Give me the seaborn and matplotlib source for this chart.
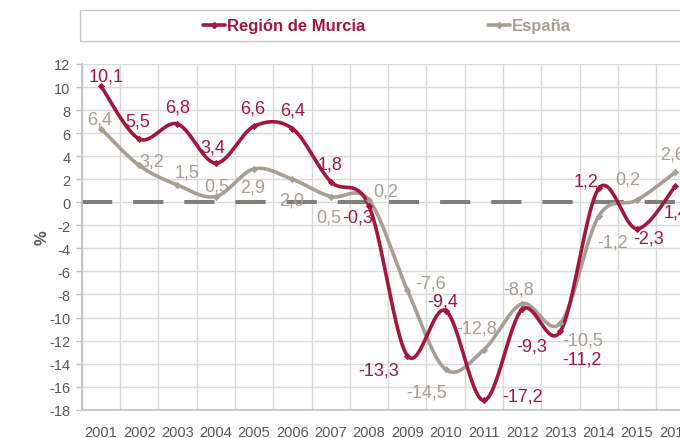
import numpy as np
import pandas as pd
import matplotlib
matplotlib.use("Agg")
import matplotlib.pyplot as plt
from matplotlib.lines import Line2D
from matplotlib.patches import Rectangle
import seaborn as sns

# ---------------- data ----------------
years = [2001, 2002, 2003, 2004, 2005, 2006, 2007, 2008,
         2009, 2010, 2011, 2012, 2013, 2014, 2015, 2016]
murcia = [10.1, 5.5, 6.8, 3.4, 6.6, 6.4, 1.8, -0.3,
          -13.3, -9.4, -17.2, -9.3, -11.2, 1.2, -2.3, 1.4]
espana = [6.4, 3.2, 1.5, 0.5, 2.9, 2.0, 0.5, 0.2,
          -7.6, -14.5, -12.8, -8.8, -10.5, -1.2, 0.2, 2.6]
series_names = ["Región de Murcia", "España"]
yticks = list(range(-18, 13, 2))

# label offsets in pixels (dx, dy; dy positive = up)
murcia_off = [(5, 10), (-1, 18), (0, 17), (-3, 16), (-1, 18), (0, 19), (-1, 18), (-11, -11),
              (-29, -14), (-3, 10), (39, 4), (10, -37), (21, -28), (-13, 7), (12, -9), (1, -26)]
espana_off = [(-1, 10), (13, 4), (10, 13), (1, 11), (-1, -18), (-1, -21), (-2, -20), (17, 9),
              (23, 7), (-19, -23), (-7, 22), (-4, 15), (22, -17), (14, -26), (-9, 21), (-3, 18)]

C_MUR = "#A3173F"
C_ESP = "#A89F94"

sns.set_theme(style="white")
plt.rcParams["font.family"] = ["Liberation Sans", "DejaVu Sans"]
plt.rcParams["axes.unicode_minus"] = False

fig = plt.figure(figsize=(6.8, 4.39), dpi=100)
W, H = 680, 439
ax = fig.add_axes([81.7 / W, 1 - 410.7 / H, (694.5 - 81.7) / W, (410.7 - 65) / H])


def smooth(xs, ys, n=30):
    """Catmull-Rom style smoothing (like spreadsheet 'smoothed line')."""
    P = np.column_stack([xs, ys]).astype(float)
    out = []
    for i in range(len(P) - 1):
        p0 = P[i - 1] if i > 0 else P[i]
        p1 = P[i]
        p2 = P[i + 1]
        p3 = P[i + 2] if i + 2 < len(P) else P[i + 1]
        c1 = p1 + (p2 - p0) / 6.0
        c2 = p2 - (p3 - p1) / 6.0
        t = np.linspace(0, 1, n, endpoint=False)[:, None]
        seg = ((1 - t) ** 3) * p1 + 3 * ((1 - t) ** 2) * t * c1 + 3 * (1 - t) * t ** 2 * c2 + t ** 3 * p2
        out.append(seg)
    out.append(P[-1:])
    return np.vstack(out)


xpos = np.arange(len(years))
df = pd.DataFrame({"x": np.tile(xpos, 2),
                   "value": murcia + espana,
                   "serie": [series_names[0]] * len(years) + [series_names[1]] * len(years)})

# zero dashed line
ax.axhline(0, color="#7F7F7F", lw=2.9, dashes=(7.5, 5.2), zorder=2)

for name, vals, col in [(series_names[1], espana, C_ESP), (series_names[0], murcia, C_MUR)]:
    sm = smooth(xpos, vals)
    sdf = pd.DataFrame({"x": sm[:, 0], "y": sm[:, 1]})
    sns.lineplot(data=sdf, x="x", y="y", ax=ax, color=col, lw=2.6, sort=False,
                 estimator=None, zorder=4 if col == C_MUR else 3)
    sub = df[df["serie"] == name]
    sns.scatterplot(data=sub, x="x", y="value", ax=ax, color=col, marker="D", s=14,
                    edgecolor=col, linewidth=0, zorder=5, legend=False)

# data labels
for vals, offs, col in [(murcia, murcia_off, C_MUR), (espana, espana_off, C_ESP)]:
    for i, v in enumerate(vals):
        ax.annotate(f"{v:.1f}".replace(".", ","), (xpos[i], v),
                    xytext=offs[i], textcoords="offset pixels",
                    ha="center", va="center", fontsize=13, color=col, zorder=6)

ax.set_xlim(-0.5, len(years) - 0.5)
ax.set_ylim(-18, 12)
ax.set_xticks(xpos)
ax.set_xticklabels([str(y) for y in years])
ax.set_xticks(np.arange(-0.5, len(years), 1), minor=True)
ax.set_yticks(yticks)
ax.set_yticklabels([str(t) for t in yticks])
ax.grid(False)
ax.grid(True, which="minor", axis="x", color="#D9D9D9", lw=1)
ax.grid(True, which="major", axis="y", color="#D9D9D9", lw=1)
ax.set_axisbelow(True)
ax.tick_params(axis="x", which="both", length=0, pad=11, labelsize=10.5, labelcolor="#595959")
ax.tick_params(axis="y", which="major", length=4, width=1, color="#BFBFBF", pad=4,
               labelsize=10.5, labelcolor="#595959", left=True)
ax.set_xlabel("")
ax.set_ylabel("%", fontsize=12, fontweight="bold", color="#595959", labelpad=0)
for s in ["top", "right"]:
    ax.spines[s].set_visible(False)
for s in ["left", "bottom"]:
    ax.spines[s].set_color("#BFBFBF")
    ax.spines[s].set_linewidth(1.2)

# legend box
fig.patches.append(Rectangle((80 / W, 1 - 42 / H), 640 / W, 31 / H, transform=fig.transFigure,
                             facecolor="white", edgecolor="#C8C8C8", lw=1))
handles = [Line2D([], [], color=C_MUR, lw=2.6, marker="D", ms=3),
           Line2D([], [], color=C_ESP, lw=2.6, marker="D", ms=3)]
leg = fig.legend(handles, series_names, loc="center left", ncol=2, frameon=False,
                 bbox_to_anchor=(203 / W, 1 - 27 / H), bbox_transform=fig.transFigure,
                 borderpad=0, borderaxespad=0, handlelength=1.3, handletextpad=0.12,
                 columnspacing=7.4, prop={"weight": "bold", "size": 12})
for t, c in zip(leg.get_texts(), [C_MUR, C_ESP]):
    t.set_color(c)

fig.savefig("out.png", dpi=100)
